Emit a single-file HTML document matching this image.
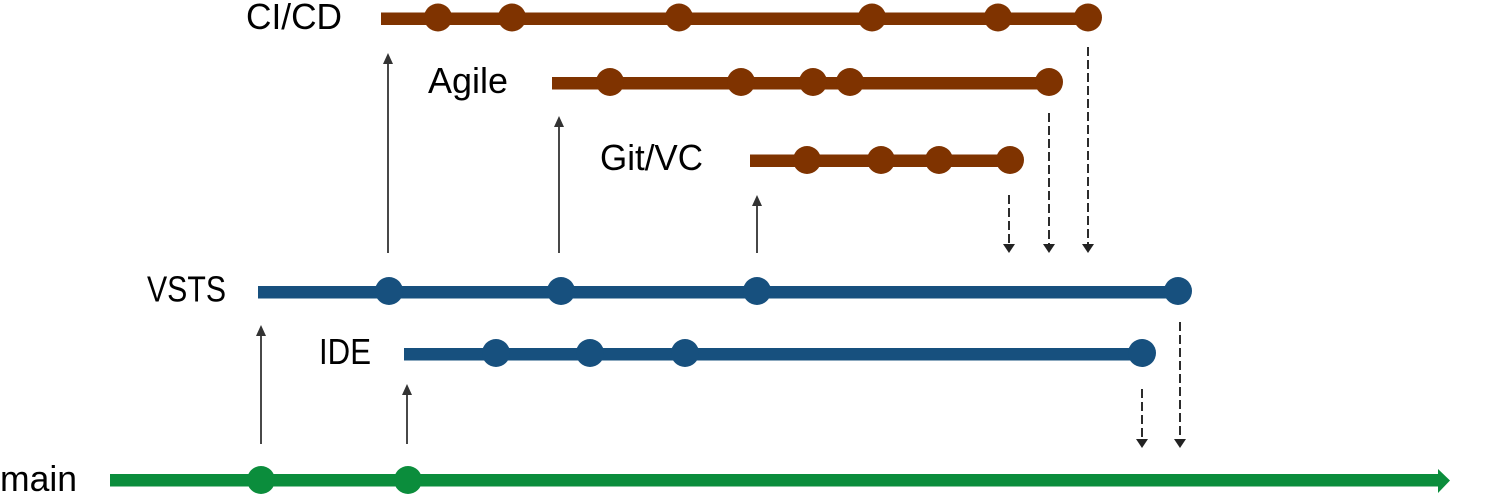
<!DOCTYPE html>
<html>
<head>
<meta charset="utf-8">
<style>
  html,body{margin:0;padding:0;background:#fff;}
  body{width:1500px;height:494px;overflow:hidden;}
  svg{display:block;}
  text{font-family:"Liberation Sans", sans-serif;font-size:36px;fill:#000;}
</style>
</head>
<body>
<svg width="1500" height="494" viewBox="0 0 1500 494" xmlns="http://www.w3.org/2000/svg">
  <!-- Labels -->
  <text x="246" y="29" textLength="96" lengthAdjust="spacingAndGlyphs">CI/CD</text>
  <text x="428" y="93" textLength="80" lengthAdjust="spacingAndGlyphs">Agile</text>
  <text x="600" y="170" textLength="103" lengthAdjust="spacingAndGlyphs">Git/VC</text>
  <text x="147" y="301.5" textLength="79" lengthAdjust="spacingAndGlyphs">VSTS</text>
  <text x="319" y="364" textLength="52" lengthAdjust="spacingAndGlyphs">IDE</text>
  <text x="0" y="491" textLength="77" lengthAdjust="spacingAndGlyphs">main</text>

  <!-- CI/CD branch -->
  <g fill="#7f3300">
    <rect x="381" y="12.5" width="707" height="12.5"/>
    <circle cx="438" cy="17.5" r="14"/>
    <circle cx="512" cy="17.5" r="14"/>
    <circle cx="679" cy="17.5" r="14"/>
    <circle cx="872" cy="17.5" r="14"/>
    <circle cx="998" cy="17.5" r="14"/>
    <circle cx="1088" cy="17.5" r="14"/>
  </g>
  <!-- Agile branch -->
  <g fill="#7f3300">
    <rect x="552" y="77" width="497" height="12.5"/>
    <circle cx="610" cy="82" r="14"/>
    <circle cx="741" cy="82" r="14"/>
    <circle cx="813" cy="82" r="14"/>
    <circle cx="850" cy="82" r="14"/>
    <circle cx="1049" cy="82" r="14"/>
  </g>
  <!-- Git/VC branch -->
  <g fill="#7f3300">
    <rect x="750" y="154.5" width="260" height="12.5"/>
    <circle cx="807" cy="160" r="14"/>
    <circle cx="881" cy="160" r="14"/>
    <circle cx="939" cy="160" r="14"/>
    <circle cx="1010" cy="160" r="14"/>
  </g>
  <!-- VSTS branch -->
  <g fill="#17507e">
    <rect x="258" y="286" width="920" height="12.5"/>
    <circle cx="389" cy="291" r="14"/>
    <circle cx="561" cy="291" r="14"/>
    <circle cx="757" cy="291" r="14"/>
    <circle cx="1178" cy="291" r="14"/>
  </g>
  <!-- IDE branch -->
  <g fill="#17507e">
    <rect x="404" y="348" width="738" height="12.5"/>
    <circle cx="496" cy="353" r="14"/>
    <circle cx="590" cy="353" r="14"/>
    <circle cx="685" cy="353" r="14"/>
    <circle cx="1142" cy="353" r="14"/>
  </g>
  <!-- main -->
  <g fill="#0b8d3c">
    <rect x="110" y="474" width="1329" height="12.5"/>
    <polygon points="1438,469 1450,480.5 1438,493"/>
    <circle cx="261" cy="480" r="14"/>
    <circle cx="408" cy="480" r="14"/>
  </g>

  <!-- Solid up arrows -->
  <g stroke="#333" stroke-width="1.8" fill="none">
    <line x1="388" y1="253" x2="388" y2="60"/>
    <line x1="559" y1="253" x2="559" y2="123"/>
    <line x1="757" y1="253" x2="757" y2="202"/>
    <line x1="261" y1="444" x2="261" y2="332"/>
    <line x1="407" y1="444" x2="407" y2="391"/>
  </g>
  <g fill="#333">
    <polygon points="388,53 383,64 393,64"/>
    <polygon points="559,116 554,127 564,127"/>
    <polygon points="757,195 752,206 762,206"/>
    <polygon points="261,325 256,336 266,336"/>
    <polygon points="407,384 402,395 412,395"/>
  </g>

  <!-- Dashed down arrows -->
  <g stroke="#222" stroke-width="1.9" fill="none" stroke-dasharray="9 4">
    <line x1="1009" y1="195" x2="1009" y2="245"/>
    <line x1="1049" y1="113" x2="1049" y2="245"/>
    <line x1="1088" y1="47" x2="1088" y2="245"/>
    <line x1="1142" y1="389" x2="1142" y2="440"/>
    <line x1="1180" y1="322" x2="1180" y2="440"/>
  </g>
  <g fill="#222">
    <polygon points="1003,244 1015,244 1009,253"/>
    <polygon points="1043,244 1055,244 1049,253"/>
    <polygon points="1082,244 1094,244 1088,253"/>
    <polygon points="1136,439 1148,439 1142,448"/>
    <polygon points="1174,439 1186,439 1180,448"/>
  </g>
</svg>
</body>
</html>
